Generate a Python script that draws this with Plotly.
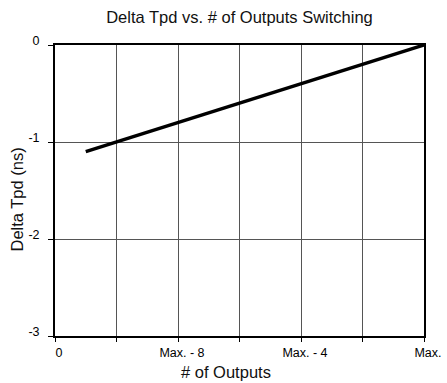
import plotly.graph_objects as go

# Delta Tpd against number of outputs switching
outputs = [1, 12]
delta_tpd = [-1.1, 0.0]

x_tick_vals = [0, 2, 4, 6, 8, 10, 12]
x_tick_text = ["0", "", "Max. - 8", "", "Max. - 4", "", "Max."]
y_tick_vals = [0, -1, -2, -3]
y_tick_text = ["0", "-1", "-2", "-3"]

FONT = "Liberation Sans, Arial, Helvetica, sans-serif"

fig = go.Figure()
fig.add_trace(go.Scatter(
    x=outputs, y=delta_tpd, mode="lines",
    line=dict(color="black", width=3.5),
    showlegend=False,
))

fig.update_layout(
    width=447, height=383,
    margin=dict(l=55, r=23, t=45, b=47),
    paper_bgcolor="white", plot_bgcolor="white",
    font=dict(family=FONT, color="black", size=12.5),
    title=dict(text="Delta Tpd vs. # of Outputs Switching",
               xref="paper", x=0.5, xanchor="center",
               yref="container", y=1 - 17 / 383, yanchor="middle",
               font=dict(size=16.5, color="#111111")),
    annotations=[
        dict(text="# of Outputs", xref="paper", yref="paper",
             x=0.463, y=-0.124, xanchor="center", yanchor="middle",
             showarrow=False, font=dict(size=16.5, color="#111111")),
        dict(text="Delta Tpd (ns)", xref="paper", yref="paper",
             x=-0.103, y=0.469, xanchor="center", yanchor="middle",
             textangle=-90, showarrow=False,
             font=dict(size=16.5, color="#111111")),
    ],
)
fig.update_xaxes(
    range=[0, 12], tickvals=x_tick_vals, ticktext=x_tick_text,
    showgrid=True, gridcolor="#555555", gridwidth=1,
    showline=True, linecolor="black", linewidth=2, mirror=True,
    ticks="outside", ticklen=4, tickcolor="black",
    zeroline=False, ticklabelstandoff=0, ticklabelshift=4,
    automargin=False,
)
fig.update_yaxes(
    range=[-3, 0], tickvals=y_tick_vals, ticktext=y_tick_text,
    showgrid=True, gridcolor="#555555", gridwidth=1,
    showline=True, linecolor="black", linewidth=2, mirror=True,
    ticks="outside", ticklen=5, tickcolor="black",
    zeroline=False, ticklabelstandoff=6, ticklabelshift=-4,
    automargin=False,
)

fig.write_html("out.html")
